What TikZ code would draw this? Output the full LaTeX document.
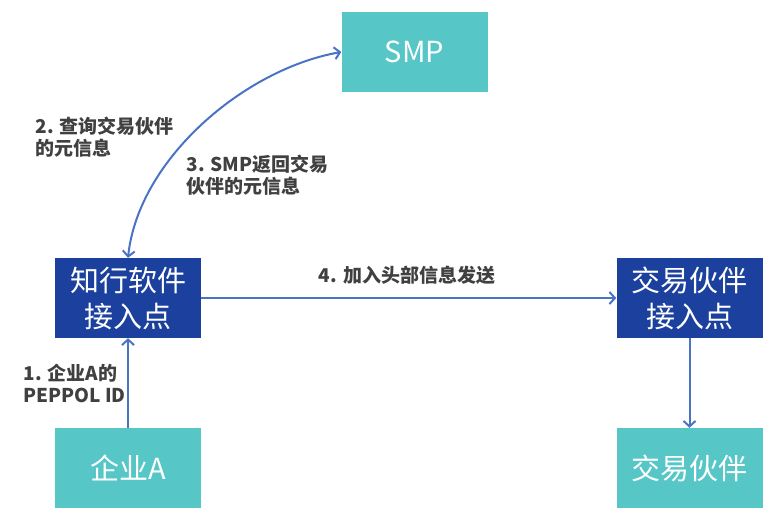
\documentclass[tikz,border=0pt]{standalone}
\usepackage{fontspec}
\newfontfamily\cjk{Noto Sans CJK SC}
\usetikzlibrary{arrows.meta}
\definecolor{boxteal}{HTML}{56C6C6}
\definecolor{boxblue}{HTML}{1B409D}
\definecolor{linkblue}{HTML}{4A73C6}
\definecolor{labelgray}{HTML}{404040}
\begin{document}
\begin{tikzpicture}[x=1pt,y=-1pt,
  box/.style={minimum width=146pt,minimum height=80pt,inner sep=0pt,
    text=white,align=center,font=\cjk\fontsize{29}{36}\selectfont},
  party/.style={box,fill=boxteal},
  apoint/.style={box,fill=boxblue},
  link/.style={linkblue,line width=2pt},
  tip/.style={-{Straight Barb[length=5.5pt,width=12pt]}},
  note/.style={text=labelgray,align=left,font=\cjk\bfseries\fontsize{19}{22}\selectfont}]
  \useasboundingbox (0,0) rectangle (783,525);
  \node[party] (smp) at (414.5,52) {SMP};
  \node[apoint] (zx) at (128,298) {知行软件\\接入点};
  \node[apoint] (tp) at (689.5,298) {交易伙伴\\接入点};
  \node[party] (qa) at (128,468) {企业A};
  \node[party] (jy) at (689.5,468) {交易伙伴};
  \draw[link,tip] (qa) -- (zx);
  \draw[link,tip] (zx) -- (tp);
  \draw[link,tip] (tp) -- (jy);
  \draw[link,{Straight Barb[length=5.5pt,width=12pt]}-{Straight Barb[length=5.5pt,width=12pt]}]
    (zx.north) to[out=84,in=190,looseness=0.85] (smp.west);
  \node[note,anchor=west] (n1) at (20,383) {1. 企业A的\\PEPPOL ID};
  \node[note,anchor=west] (n2) at (32,137) {2. 查询交易伙伴\\的元信息};
  \node[note,anchor=west] (n3) at (183,175) {3. SMP返回交易\\伙伴的元信息};
  \node[note] (n4) at (407,275) {4. 加入头部信息发送};
\end{tikzpicture}
\end{document}
